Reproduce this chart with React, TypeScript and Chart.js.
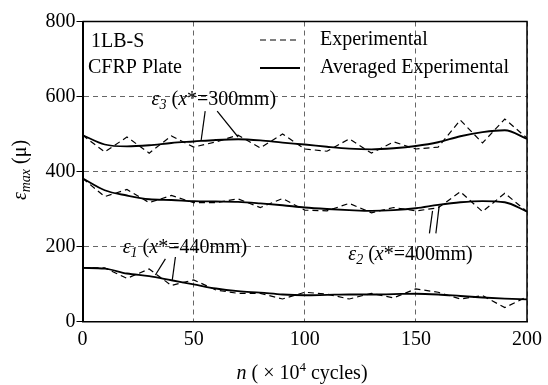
import React, { useEffect, useRef } from "react";
import { Chart, registerables } from "chart.js";

Chart.register(...registerables);

const cycles = [0, 10, 20, 30, 40, 50, 60, 70, 80, 90, 100, 110, 120, 130, 140, 150, 160, 170, 180, 190, 200];

const eps3Exp = [497, 452, 492, 449, 495, 465, 479, 497, 463, 500, 460, 454, 487, 449, 479, 460, 465, 537, 476, 540, 489];
const eps3Avg = [497, 472, 467, 470, 476, 480, 484, 486, 483, 477, 472, 466, 461, 459, 462, 468, 478, 494, 505, 510, 487];

const eps2Exp = [382, 333, 352, 317, 336, 317, 317, 327, 304, 328, 297, 295, 315, 290, 304, 295, 303, 346, 293, 342, 293];
const eps2Avg = [382, 350, 336, 326, 324, 321, 320, 319, 315, 310, 304, 300, 297, 295, 297, 302, 311, 318, 321, 318, 293];

const eps1Exp = [143, 143, 115, 140, 96, 111, 84, 75, 75, 60, 78, 73, 60, 75, 63, 87, 78, 60, 69, 37, 66];
const eps1Avg = [143, 141, 128, 121, 110, 99, 88, 81, 77, 72, 70, 71, 72, 72, 73, 74, 72, 68, 64, 61, 59];

const xTicks = [0, 50, 100, 150, 200];
const yTicks = [0, 200, 400, 600, 800];

const legendLabels = ["Experimental", "Averaged Experimental"];
const specimenLabels = ["1LB-S", "CFRP Plate"];

// label anchors in data coordinates: [n, value]
const eps3Label = { pos: [31.1, 591], sub: "3", mm: "300mm", leaders: [[[55.2, 561], [53.4, 484]], [[60.6, 561], [70, 492]]] };
const eps1Label = { pos: [18.1, 196], sub: "1", mm: "440mm", leaders: [[[37.3, 167], [32.8, 124]], [[41.8, 172], [40.4, 111]]] };
const eps2Label = { pos: [119.6, 177], sub: "2", mm: "400mm", leaders: [[[156.1, 235], [157.5, 295]], [[159, 235], [160.5, 309]]] };

const FONT = "'Liberation Serif', 'Times New Roman', serif";

type Seg = { t: string; it?: boolean; size?: number; dy?: number };

function segFont(s: Seg) {
  return `${s.it ? "italic " : ""}${s.size ?? 20}px ${FONT}`;
}
function richWidth(ctx: CanvasRenderingContext2D, segs: Seg[]) {
  let w = 0;
  for (const s of segs) {
    ctx.font = segFont(s);
    w += ctx.measureText(s.t).width;
  }
  return w;
}
function drawRich(ctx: CanvasRenderingContext2D, x: number, y: number, segs: Seg[]) {
  let cx = x;
  ctx.textBaseline = "middle";
  ctx.textAlign = "left";
  for (const s of segs) {
    ctx.font = segFont(s);
    ctx.fillText(s.t, cx, y + (s.dy ?? 0));
    cx += ctx.measureText(s.t).width;
  }
}

const mkData = (vals: number[]) => cycles.map((c, i) => ({ x: c, y: vals[i] }));

const annotationPlugin = {
  id: "annots",
  afterDraw(chart: any) {
    const ctx: CanvasRenderingContext2D = chart.ctx;
    const xs = chart.scales.x;
    const ys = chart.scales.y;
    const ca = chart.chartArea;
    ctx.save();
    // top and right border
    ctx.strokeStyle = "#000";
    ctx.lineWidth = 1.5;
    ctx.beginPath();
    ctx.moveTo(ca.left, ca.top);
    ctx.lineTo(ca.right, ca.top);
    ctx.lineTo(ca.right, ca.bottom);
    ctx.stroke();

    ctx.fillStyle = "#000";
    // specimen text
    drawRich(ctx, 91, 42, [{ t: specimenLabels[0] }]);
    drawRich(ctx, 88, 68, [{ t: specimenLabels[1] }]);

    // legend
    ctx.lineWidth = 1.2;
    ctx.setLineDash([6, 4]);
    ctx.beginPath();
    ctx.moveTo(260, 40);
    ctx.lineTo(300, 40);
    ctx.stroke();
    ctx.setLineDash([]);
    ctx.lineWidth = 1.8;
    ctx.beginPath();
    ctx.moveTo(260, 68);
    ctx.lineTo(300, 68);
    ctx.stroke();
    drawRich(ctx, 320, 40, [{ t: legendLabels[0] }]);
    drawRich(ctx, 320, 68, [{ t: legendLabels[1] }]);

    // curve labels
    ctx.lineWidth = 1.2;
    for (const lab of [eps3Label, eps1Label, eps2Label]) {
      const px = xs.getPixelForValue(lab.pos[0]);
      const py = ys.getPixelForValue(lab.pos[1]);
      drawRich(ctx, px, py, [
        { t: "ε", it: true },
        { t: lab.sub, it: true, size: 14, dy: 5 },
        { t: " (" },
        { t: "x", it: true },
        { t: "*=" + lab.mm + ")" },
      ]);
      for (const l of lab.leaders) {
        ctx.beginPath();
        ctx.moveTo(xs.getPixelForValue(l[0][0]), ys.getPixelForValue(l[0][1]));
        ctx.lineTo(xs.getPixelForValue(l[1][0]), ys.getPixelForValue(l[1][1]));
        ctx.stroke();
      }
    }

    // x axis title
    const xt: Seg[] = [
      { t: "n", it: true },
      { t: " ( × 10" },
      { t: "4", size: 13, dy: -6 },
      { t: " cycles)" },
    ];
    const xw = richWidth(ctx, xt);
    drawRich(ctx, 302 - xw / 2, 374, xt);

    // y axis title
    const yt: Seg[] = [
      { t: "ε", it: true },
      { t: "max", it: true, size: 14, dy: 5 },
      { t: " (μ)" },
    ];
    const yw = richWidth(ctx, yt);
    ctx.translate(21, 170);
    ctx.rotate(-Math.PI / 2);
    drawRich(ctx, -yw / 2, 0, yt);
    ctx.restore();
  },
};

export default function App() {
  const ref = useRef<HTMLCanvasElement | null>(null);
  useEffect(() => {
    if (!ref.current) return;
    const dashed = { borderColor: "#000", borderWidth: 1.2, borderDash: [6, 4], pointRadius: 0, tension: 0, fill: false };
    const solid = { borderColor: "#000", borderWidth: 1.8, pointRadius: 0, cubicInterpolationMode: "monotone" as const, fill: false };
    const chart = new Chart(ref.current, {
      type: "line",
      data: {
        datasets: [
          { label: legendLabels[0], data: mkData(eps3Exp), ...dashed },
          { label: legendLabels[1], data: mkData(eps3Avg), ...solid },
          { label: legendLabels[0], data: mkData(eps2Exp), ...dashed },
          { label: legendLabels[1], data: mkData(eps2Avg), ...solid },
          { label: legendLabels[0], data: mkData(eps1Exp), ...dashed },
          { label: legendLabels[1], data: mkData(eps1Avg), ...solid },
        ],
      },
      options: {
        responsive: false,
        animation: false,
        devicePixelRatio: 1,
        layout: { padding: { top: 21.5, right: 18, left: 0, bottom: 0 } },
        plugins: { legend: { display: false }, tooltip: { enabled: false } },
        scales: {
          x: {
            type: "linear",
            min: 0,
            max: 200,
            afterBuildTicks: (s: any) => {
              s.ticks = xTicks.map((v) => ({ value: v }));
            },
            afterFit: (s: any) => {
              s.height = 63.5;
            },
            grid: { color: "#666", tickBorderDash: [], drawTicks: false, lineWidth: 1 },
            border: { display: true, color: "#000", width: 1.5, dash: [5, 4] },
            ticks: { color: "#000", font: { family: FONT, size: 20 }, padding: 6, maxRotation: 0 },
          },
          y: {
            type: "linear",
            min: 0,
            max: 800,
            afterBuildTicks: (s: any) => {
              s.ticks = yTicks.map((v) => ({ value: v }));
            },
            afterFit: (s: any) => {
              s.width = 82.5;
            },
            grid: { color: "#666", tickColor: "#000", tickBorderDash: [], tickLength: 6, lineWidth: 1 },
            border: { display: true, color: "#000", width: 2, dash: [5, 4] },
            ticks: { color: "#000", font: { family: FONT, size: 20 }, padding: 1 },
          },
        },
      } as any,
      plugins: [annotationPlugin],
    });
    return () => chart.destroy();
  }, []);
  return (
    <canvas
      ref={ref}
      width={548}
      height={385}
      style={{ position: "fixed", left: 0, top: 0, width: 548, height: 385 }}
    />
  );
}
